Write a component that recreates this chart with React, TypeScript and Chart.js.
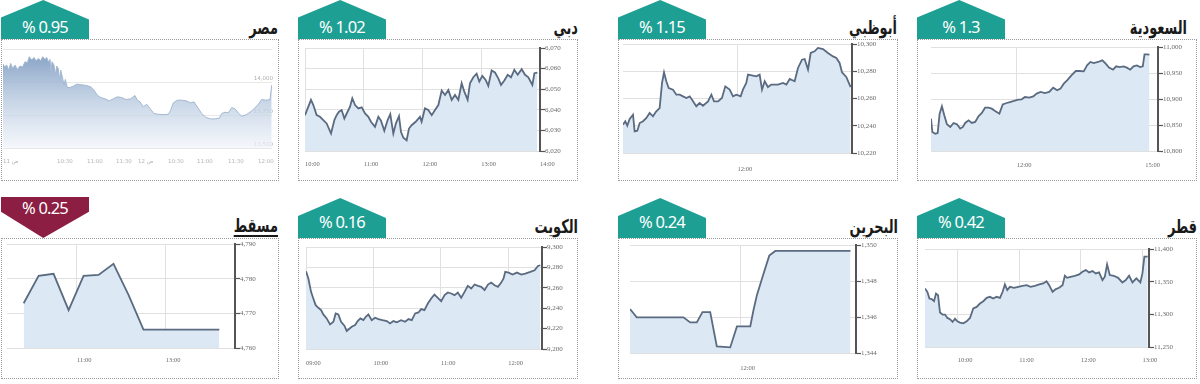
import React, { useEffect, useRef } from 'react';
import { Chart, registerables } from 'chart.js';
Chart.register(...registerables);

// ---------------- data ----------------
const egyptX = [3,4.7,6.7,8.7,10.7,12.7,15,17.3,20,22.7,25,27.3,29.3,31.7,34,36,38.3,40.7,42.7,45,46.7,48.3,50,51,52,54,55.3,56.7,58.3,59.3,60.7,62.7,64,65.3,67.3,70,73.3,76.7,81.7,86.7,90.7,94,97.3,100.7,105,109.3,113.3,117.3,121.7,126,130.7,135,137.3,140,143.3,146.7,150,154,158.3,163.3,168.3,170.7,173.3,177.3,181.7,186,190.7,194,197.3,201.7,206,210.7,215,219.3,221.7,225,228.3,231.7,235,238.3,241.7,246,250,254,258.3,261.7,266,270,271.7];
const egyptValues = [14135.8,14115.5,14128.2,14090.2,14140.8,14102.9,14128.2,14095.3,14120.6,14115.5,14153.5,14145.9,14191.5,14166.2,14186.4,14161.1,14178.8,14161.1,14191.5,14171.2,14186.4,14153.5,14171.2,14077.5,14153.5,14128.2,14052.2,14120.6,14102.9,14014.2,14090.2,14026.9,13976.2,14019.3,13958.5,13958.5,13968.6,13983.8,13978.7,13973.7,13963.5,13938.2,13900.2,13882.5,13872.4,13857.2,13872.4,13887.5,13882.5,13867.3,13872.4,13897.7,13862.2,13849.6,13811.6,13831.8,13798.9,13760.9,13755.8,13753.3,13755.8,13786.2,13842,13862.2,13862.2,13857.2,13842,13849.6,13811.6,13760.9,13730.5,13720.4,13720.4,13725.4,13760.9,13771,13766,13806.5,13796.4,13766,13740.6,13750.8,13771,13796.4,13831.8,13867.3,13862.2,13867.3,13976.2];
const egyptTickPos = [3,57,87,116,138,168,197,228,258];
const egyptTickLabels = ['11 ص','10:30','11:00','11:30','12 ص','10:30','11:00','11:30','12:00'];
const egyptYTicks = [13500,13750,14000,14250];

const dubaiTimes = [600,602.7,606.1,608.5,611.9,615.3,618.7,622.1,626.6,630,632.3,634.7,637.4,640.2,642.6,646,648.3,651.1,654.5,657.9,661.3,664.7,667.4,671.5,674.9,677.6,681,684.4,687.1,690.2,692.9,696,698,700.4,703.8,706.2,708.9,713,717.4,719.1,722.5,725.9,729.4,732.8,736.2,739.6,743,746.4,749.8,753.2,756.6,760,762.7,766.1,768.5,771.9,775.3,778,781.1,784.5,787.2,790.6,794,797.4,800.2,803.6,807,810.4,813.8,817.2,821.3,824.7,828.1,832.2,834.3,837.3];
const dubaiValues = [6037.4,6040.7,6044.8,6042.3,6037.4,6036.6,6035,6033.4,6028.5,6035,6037.4,6039.1,6039.9,6035.8,6038.2,6041.5,6045.6,6042.3,6040.7,6041.2,6038.2,6036.6,6034.2,6031.7,6036.6,6034.7,6029.8,6035,6037.9,6028.5,6033.4,6036.9,6029.3,6026.5,6025.2,6030.9,6032.5,6034.2,6036.6,6034.2,6040.7,6039.9,6037.4,6039.9,6042.3,6049.3,6047.2,6049.6,6044.8,6047.2,6044.8,6052.9,6048.8,6044.8,6052.9,6055.8,6057.5,6053.7,6056.5,6054.5,6051.6,6059.1,6058.1,6055.3,6052.1,6054.2,6057,6055.8,6059.4,6057,6059.7,6057,6055.8,6052.1,6057.8,6058.1];
const dubaiTickTimes = [600,660,720,780,840];
const dubaiTickLabels = ['10:00','11:00','12:00','13:00','14:00'];
const dubaiYTicks = [6020,6030,6040,6050,6060,6070];

const abuDhabiTimes = [600,602.4,604.5,607,610.5,612.2,615,617.5,621,624.5,627.9,631.4,634.9,638.4,640.9,643,645.4,647.9,652.4,655.9,659.4,662.9,666.4,669.9,673.4,676.8,680.3,683.8,689.1,692.6,695.4,699.6,703.7,707.2,711.8,715.3,718.8,723.3,725.7,729.2,731,736.2,739.7,743.2,745.7,748.5,751.9,755.4,762.4,767.7,771.2,774.7,779.9,783.4,787.6,790.4,793.9,796.7,800.8,804.3,809.6,814.8,820.1,823.6,827,829.5,834,838.6];
const abuDhabiValues = [10240.8,10243.3,10240.1,10245,10248.1,10235.9,10236.4,10242,10243.3,10245.7,10249.4,10246.9,10250.6,10253,10271.4,10279.2,10272.6,10267.7,10266.5,10262.8,10262.8,10261.6,10260.4,10261.6,10257.9,10254.3,10256.7,10254.7,10257.9,10262.8,10257.9,10257.9,10260.4,10268.9,10266.5,10261.6,10262.8,10261.6,10266.5,10271.4,10277.5,10276.8,10276.3,10277.5,10266.5,10272.6,10268.4,10270.2,10270.2,10271.4,10270.2,10274.3,10272.6,10282.4,10288.5,10289,10281.2,10293.4,10294.6,10297.1,10296.3,10293.4,10290.9,10289.7,10286.1,10279.2,10275.8,10268.4];
const abuDhabiTickTimes = [720];
const abuDhabiTickLabels = ['12:00'];
const abuDhabiYTicks = [10220,10240,10260,10280,10300];

const saudiTimes = [600,601.9,606,609.3,612.1,615.3,618.6,622.3,627,631.6,636.3,640.9,644.7,647.9,652.6,657.2,661.9,666.5,671.2,675.8,680.5,685.1,689.8,695.8,700.5,706,710.7,716.3,722.3,727,731.6,737.7,743.3,748,753.5,759.5,765.6,771.2,776.7,781.4,786,790.7,796.7,802.8,808.4,814,818.6,823.3,827.9,834,840,844.7,849.3,854.9,859.5,864.2,869.8,874.4,879.1,883.7,888.4,893,896.7,899.1,902.3,906];
const saudiValues = [10862.2,10836.5,10833.3,10834.6,10871.8,10885.9,10868.6,10851.3,10846.2,10853.9,10851.3,10843,10846.2,10853.9,10859,10853.9,10855.8,10866.7,10873.1,10883.3,10883.3,10881.4,10876.9,10871.8,10889.7,10892.3,10894.2,10896.2,10898.7,10899.4,10903.8,10902.6,10905.1,10910.3,10913.5,10911.5,10913.5,10921.8,10916.7,10919.9,10929.5,10935.9,10945.5,10953.8,10953.8,10953.2,10964.7,10971.2,10969.2,10971.2,10974.4,10967.9,10960.3,10956.4,10962.8,10961.5,10962.8,10960.3,10956.4,10962.8,10964.7,10961.5,10962.8,10985.9,10985.9,10985.3];
const saudiTickTimes = [720,900];
const saudiTickLabels = ['12:00','15:00'];
const saudiYTicks = [10800,10850,10900,10950,11000];

const muscatTimes = [588.1,608.3,628.5,648.8,669,689.2,709.4,729.7,749.9,770.1,790.3,810.6,830.8,852.3];
const muscatValues = [4772.9,4780.8,4781.4,4770.9,4780.8,4781.1,4784.3,4775.3,4765.3,4765.3,4765.3,4765.3,4765.3,4765.3];
const muscatTickTimes = [660,780];
const muscatTickLabels = ['11:00','13:00'];
const muscatYTicks = [4760,4770,4780,4790];

const kuwaitTimes = [540,542.1,544.5,546.5,548.6,551,553.4,555.4,558.4,561.4,564.4,566.4,568.8,571.2,574.2,576.2,578.3,580.7,583.7,586,588.4,591.1,593.2,595.5,598.5,601.5,604.4,608,611.9,614.8,617.8,620.8,624.6,628.2,631.2,634.1,637.1,640.1,642.5,645.4,648.4,651.4,654.3,657.3,660.3,663.3,666.2,669.2,672.2,675.1,678.1,681.1,684,687,690,693,695.9,698.9,701.9,704.8,707.8,710.8,713.7,715.8,717.3,720.3,723.8,727.7,731.6,735.1,739.6,743.4,746.4,748.5];
const kuwaitValues = [9276.2,9269.1,9256,9249.5,9243,9240.4,9238.1,9233.9,9230,9224.1,9226.7,9234.9,9233.9,9226.7,9222.8,9217.6,9219.6,9221.8,9223.5,9227.4,9230,9228.3,9231.6,9233.9,9228.3,9230.6,9229.3,9228.3,9227.4,9225.1,9227.4,9226.1,9228.3,9226.7,9229.3,9228.3,9234.9,9235.8,9239.1,9238.1,9244.6,9249.5,9253.4,9250.2,9246.9,9252.8,9255.4,9254.4,9252.8,9255.4,9250.2,9256,9261.9,9259.3,9263.2,9261.9,9260.9,9257.7,9263.2,9265.1,9262.5,9260.9,9265.1,9269.1,9275.6,9274.9,9273,9274.9,9273,9273.9,9275.6,9277.2,9281.4,9282.1];
const kuwaitTickTimes = [540,600,660,720];
const kuwaitTickLabels = ['09:00','10:00','11:00','12:00'];
const kuwaitYTicks = [9200,9220,9240,9260,9280,9300];

const bahrainTimes = [600,603.6,607.3,658.2,665.5,672.7,678.9,687.3,694.5,709.1,716.4,730.9,734.5,738.2,745.5,751.6,758.2,840];
const bahrainValues = [1346.44,1346.22,1345.98,1345.98,1345.7,1345.7,1346.27,1346.27,1344.37,1344.31,1345.48,1345.48,1346.4,1347.23,1348.43,1349.41,1349.67,1349.67];
const bahrainTickTimes = [720];
const bahrainTickLabels = ['12:00'];
const bahrainYTicks = [1344,1346,1348,1350];

const qatarTimes = [568.2,570.5,572.5,574.7,577,578.9,580.9,582.8,585.4,587.7,590,592.5,595.1,597.4,599.7,602.3,605.5,608.8,612,615.2,618.5,621.7,625,628.2,631.4,634.7,637.9,641.2,643.8,646,648.3,650.9,654.8,659,663.2,667.1,671,675.2,679.4,683.3,686.5,689.1,692.4,695.6,698.8,702.1,704.4,706.6,709.9,714.1,718.3,721.5,724.8,728,731.3,734.5,737.7,741,743.3,745.5,748.1,752,756.2,760.4,763.7,766.9,770.2,774,777.9,779.9,781.8,785];
const qatarValues = [11339.6,11334.5,11324.2,11323.2,11320.1,11331.9,11329.3,11302.7,11299.6,11299.6,11294.5,11292.5,11288.4,11293.5,11289.4,11287.4,11286.3,11289.4,11294.5,11308.9,11311.4,11316.5,11320.1,11325.2,11326.8,11324.2,11326.8,11325.2,11334.5,11345.7,11337.1,11342.1,11340.6,11342.1,11343.7,11344.7,11342.1,11343.7,11345.7,11347.3,11350.8,11344.7,11334.5,11338.6,11340.6,11344.7,11359,11355.9,11357.5,11359,11361.1,11365.2,11367.7,11364.2,11366.2,11362.6,11364.2,11352.4,11357.5,11376.4,11360.1,11359,11355.9,11348.8,11352.4,11359,11348.8,11355,11348.8,11362.6,11388.2,11388.2];
const qatarTickTimes = [600,660,720,780];
const qatarTickLabels = ['10:00','11:00','12:00','13:00'];
const qatarYTicks = [11250,11300,11350,11400];

// ---------------- layout / style ----------------
const TEAL = '#1e9f94';
const MAROON = '#8b1e42';
const FILL = '#dce9f5';
const LINE = '#5a6a80';
const GRID = '#e0e0e0';
const AXIS = '#555';
const CLEAR = 'rgba(0,0,0,0)';

type Spec = {
  id: string; title: string; change: string; down?: boolean; underline?: boolean; egypt?: boolean;
  box: number[]; plot: number[]; badgeTop: number; changeY: number; titleRight: number; titleY: number;
  xs: number[]; ys: number[]; xMin: number; xMax: number; xTicks: number[]; xLabels: string[];
  yMin: number; yMax: number; yTicks: number[]; xPad: number; hideGridAt?: number[];
};

const specs: Spec[] = [
  { id: 'egypt', title: 'مصر', change: '% 0.95', egypt: true, box: [1, 39, 279, 181], plot: [3, 49, 272, 148], badgeTop: 0, changeY: 27, titleRight: 278, titleY: 27,
    xs: egyptX, ys: egyptValues, xMin: 3, xMax: 272, xTicks: egyptTickPos, xLabels: egyptTickLabels, yMin: 13500, yMax: 14250, yTicks: egyptYTicks, xPad: 10 },
  { id: 'dubai', title: 'دبي', change: '% 1.02', box: [298, 39, 578, 181], plot: [305, 48, 540, 151], badgeTop: 0, changeY: 27, titleRight: 578, titleY: 27,
    xs: dubaiTimes, ys: dubaiValues, xMin: 600, xMax: 840, xTicks: dubaiTickTimes, xLabels: dubaiTickLabels, yMin: 6020, yMax: 6070, yTicks: dubaiYTicks, xPad: 9 },
  { id: 'abudhabi', title: 'أبوظبي', change: '% 1.15', box: [618, 39, 898, 181], plot: [623, 44, 852, 153], badgeTop: 0, changeY: 27, titleRight: 897, titleY: 27,
    xs: abuDhabiTimes, ys: abuDhabiValues, xMin: 600, xMax: 840, xTicks: abuDhabiTickTimes, xLabels: abuDhabiTickLabels, yMin: 10220, yMax: 10300, yTicks: abuDhabiYTicks, xPad: 12 },
  { id: 'saudi', title: 'السعودية', change: '% 1.3', box: [917, 39, 1197, 181], plot: [931, 47, 1158, 151], badgeTop: 0, changeY: 27, titleRight: 1187, titleY: 27,
    xs: saudiTimes, ys: saudiValues, xMin: 600, xMax: 918, xTicks: saudiTickTimes, xLabels: saudiTickLabels, yMin: 10800, yMax: 11000, yTicks: saudiYTicks, xPad: 10, hideGridAt: [900] },
  { id: 'muscat', title: 'مسقط', change: '% 0.25', down: true, underline: true, box: [1, 238, 279, 379], plot: [7, 244, 235, 348], badgeTop: 197, changeY: 208, titleRight: 278, titleY: 225,
    xs: muscatTimes, ys: muscatValues, xMin: 565.6, xMax: 873.5, xTicks: muscatTickTimes, xLabels: muscatTickLabels, yMin: 4760, yMax: 4790, yTicks: muscatYTicks, xPad: 8 },
  { id: 'kuwait', title: 'الكويت', change: '% 0.16', box: [298, 238, 578, 379], plot: [306, 247, 542, 349], badgeTop: 198, changeY: 222, titleRight: 578, titleY: 226,
    xs: kuwaitTimes, ys: kuwaitValues, xMin: 540, xMax: 750, xTicks: kuwaitTickTimes, xLabels: kuwaitTickLabels, yMin: 9200, yMax: 9300, yTicks: kuwaitYTicks, xPad: 10 },
  { id: 'bahrain', title: 'البحرين', change: '% 0.24', box: [618, 238, 898, 379], plot: [630, 245, 856, 353], badgeTop: 198, changeY: 222, titleRight: 898, titleY: 226,
    xs: bahrainTimes, ys: bahrainValues, xMin: 600, xMax: 846, xTicks: bahrainTickTimes, xLabels: bahrainTickLabels, yMin: 1344, yMax: 1350, yTicks: bahrainYTicks, xPad: 11 },
  { id: 'qatar', title: 'قطر', change: '% 0.42', box: [917, 238, 1197, 379], plot: [925, 249, 1149, 347], badgeTop: 198, changeY: 222, titleRight: 1197, titleY: 226,
    xs: qatarTimes, ys: qatarValues, xMin: 568.2, xMax: 786.3, xTicks: qatarTickTimes, xLabels: qatarTickLabels, yMin: 11250, yMax: 11400, yTicks: qatarYTicks, xPad: 9 },
];

function MarketChart({ s }: { s: Spec }) {
  const ref = useRef<HTMLCanvasElement>(null);
  const [bl, bt, br, bb] = s.box;
  const [pl, pt, pr, pb] = s.plot;
  const w = br - bl;
  const h = bb - bt;
  useEffect(() => {
    const canvas = ref.current;
    if (!canvas) return;
    const points = s.xs.map((x, i) => ({ x, y: s.ys[i] }));
    const eg = !!s.egypt;
    const chart = new Chart(canvas, {
      type: 'line',
      data: {
        datasets: [{
          data: points,
          borderColor: eg ? '#a3b8d1' : LINE,
          borderWidth: eg ? 1 : 1.8,
          pointRadius: 0,
          tension: 0,
          fill: 'start',
          backgroundColor: eg
            ? (ctx: any) => {
                const ca = ctx.chart.chartArea;
                if (!ca) return 'rgba(150,175,205,0.6)';
                const g = ctx.chart.ctx.createLinearGradient(0, ca.top + 5, 0, ca.bottom);
                g.addColorStop(0, 'rgba(128,157,194,0.95)');
                g.addColorStop(0.5, 'rgba(185,203,224,0.8)');
                g.addColorStop(1, 'rgba(240,244,250,0.7)');
                return g;
              }
            : FILL,
        }],
      },
      options: {
        animation: false,
        responsive: false,
        maintainAspectRatio: false,
        layout: { padding: { left: pl - bl, top: pt - bt, right: 0, bottom: 0 } },
        plugins: { legend: { display: false }, tooltip: { enabled: false } },
        scales: {
          x: {
            type: 'linear',
            min: s.xMin,
            max: s.xMax,
            afterBuildTicks: (axis: any) => { axis.ticks = s.xTicks.map((v) => ({ value: v })); },
            afterFit: (axis: any) => { axis.height = bb - pb; },
            ticks: {
              callback: (_v: any, i: number) => s.xLabels[i],
              align: 'start',
              font: { family: eg ? 'DejaVu Sans' : 'Liberation Serif', size: eg ? 5.5 : 6.5 },
              color: eg ? '#b5b5b5' : '#6a6a6a',
              padding: 0,
              maxRotation: 0,
              autoSkip: false,
            },
            grid: {
              display: true,
              drawTicks: true,
              tickLength: s.xPad,
              tickColor: CLEAR,
              color: (c: any) => (eg || (s.hideGridAt && c.tick && s.hideGridAt.includes(c.tick.value)) ? CLEAR : GRID),
            },
            border: { display: false },
          },
          y: {
            type: 'linear',
            position: 'right',
            min: s.yMin,
            max: s.yMax,
            afterBuildTicks: (axis: any) => { axis.ticks = s.yTicks.map((v) => ({ value: v })); },
            afterFit: (axis: any) => { axis.width = br - pr; },
            ticks: {
              callback: (v: any) => (eg && v === s.yMax ? '' : Number(v).toLocaleString('en-US')),
              font: { family: eg ? 'DejaVu Sans' : 'Liberation Serif', size: eg ? 5.5 : 7 },
              color: eg ? '#b0b0b0' : '#6a6a6a',
              padding: eg ? 1 : 0,
              mirror: eg,
              labelOffset: eg ? -3 : 0,
            },
            grid: eg
              ? { color: '#e8e8e8', drawTicks: false }
              : { color: GRID, tickColor: AXIS, tickLength: 5, tickWidth: 1.2 },
            border: eg ? { display: false } : { display: true, color: AXIS, width: 2 },
          },
        },
      } as any,
    });
    return () => chart.destroy();
  }, []);
  return (
    <canvas ref={ref} width={w} height={h}
      style={{ position: 'absolute', left: bl, top: bt, width: w, height: h, display: 'block' }} />
  );
}

function Panel({ s }: { s: Spec }) {
  const [bl, bt, br, bb] = s.box;
  const bh = bt - s.badgeTop;
  const clip = s.down
    ? 'polygon(0 0, 100% 0, 100% 36%, 48% 100%, 0 36%)'
    : 'polygon(48% 0, 100% 50%, 100% 100%, 0 100%, 0 45%)';
  return (
    <>
      <div style={{ position: 'absolute', left: bl, top: s.badgeTop, width: 88, height: bh, background: s.down ? MAROON : TEAL, clipPath: clip }} />
      <div style={{ position: 'absolute', left: bl, top: s.changeY - 11, width: 88, height: 22, lineHeight: '22px', textAlign: 'center', color: '#fff', fontFamily: 'Noto Sans', fontSize: 16.5, letterSpacing: -0.8, direction: 'ltr' }}>
        {s.change}
      </div>
      <div style={{ position: 'absolute', left: s.titleRight - 200, width: 200, top: s.titleY - 15, height: 30, lineHeight: '30px', textAlign: 'right', direction: 'rtl', fontFamily: 'DejaVu Sans', fontWeight: 'bold', fontSize: 19, color: '#1a1a1a', transform: 'scaleX(0.68)', transformOrigin: '100% 50%', whiteSpace: 'nowrap' }}>
        <span style={{ textDecoration: s.underline ? 'underline' : 'none', textDecorationThickness: 1.5, textUnderlineOffset: 3 }}>{s.title}</span>
      </div>
      <MarketChart s={s} />
      <div style={{ position: 'absolute', left: bl, top: bt, width: br - bl, height: bb - bt, border: '1px dotted #9a9a9a', boxSizing: 'border-box', pointerEvents: 'none' }} />
    </>
  );
}

export default function App() {
  return (
    <div style={{ position: 'absolute', left: 0, top: 0, width: 1200, height: 384, background: '#fff', overflow: 'hidden' }}>
      {specs.map((s) => <Panel key={s.id} s={s} />)}
    </div>
  );
}
